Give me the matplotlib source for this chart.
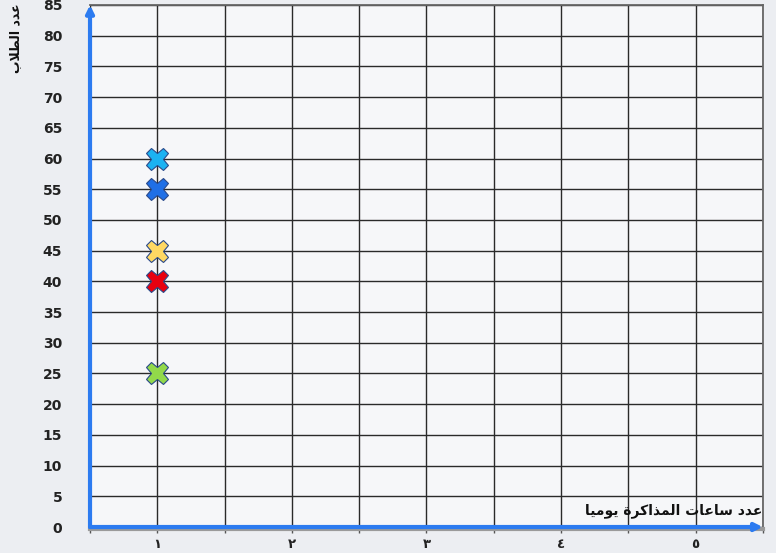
import numpy as np
import matplotlib.pyplot as plt
import matplotlib.transforms as mtransforms

# data
hours = [1, 1, 1, 1, 1]
students = [60, 55, 45, 40, 25]
point_colors = ['#1bb2f2', '#1f6fe6', '#ffd863', '#e8000f', '#92d94a']
x_labels = ['١', '٢', '٣', '٤', '٥']
y_ticks = list(range(0, 90, 5))


def shape(forms):
    # matplotlib has no Arabic shaping: use presentation forms in visual order
    return ''.join(chr(c) for c in forms)[::-1]


# "عدد ساعات المذاكرة يوميا"
xlabel_forms = [0xFECB, 0xFEAA, 0xFEA9, 0x20,
                0xFEB3, 0xFE8E, 0xFECB, 0xFE8E, 0xFE95, 0x20,
                0xFE8D, 0xFEDF, 0xFEE4, 0xFEAC, 0xFE8D, 0xFEDB, 0xFEAE, 0xFE93, 0x20,
                0xFEF3, 0xFEEE, 0xFEE3, 0xFEF4, 0xFE8E]
# "عدد الطلاب"
ylabel_forms = [0xFECB, 0xFEAA, 0xFEA9, 0x20,
                0xFE8D, 0xFEDF, 0xFEC4, 0xFEFC, 0xFE8F]

plt.rcParams['font.family'] = ['DejaVu Sans']

fig = plt.figure(figsize=(7.76, 5.53), dpi=100, facecolor='#eceef2')
ax = fig.add_axes([0.116, 0.047, 0.867, 0.944])
ax.set_facecolor('#f6f7f9')

ax.set_xlim(0.5, 5.5)
ax.set_ylim(0, 85)

# grid
ax.set_xticks(np.arange(0.5, 5.51, 0.5))
ax.set_xticklabels(['' if v != int(v) else x_labels[int(v) - 1]
                    for v in np.arange(0.5, 5.51, 0.5)],
                   fontsize=9.5, fontweight='bold', color='#222222')
ax.set_yticks(y_ticks)
ax.set_yticklabels([str(v) for v in y_ticks], fontsize=10,
                   fontweight='bold', color='#222222')
ax.tick_params(axis='x', length=4, width=1, color='#555555', pad=4)
ax.tick_params(axis='y', length=0, pad=20)
ax.grid(True, color='#2a2a2a', linewidth=1.0)
ax.set_axisbelow(True)

for s in ['left', 'bottom']:
    ax.spines[s].set_visible(False)
for s in ['top', 'right']:
    ax.spines[s].set_color('#666666')
    ax.spines[s].set_linewidth(1.3)

# gray shadow under the x axis
shadow = mtransforms.offset_copy(ax.transData, fig=fig, x=0, y=-2, units='dots')
ax.plot([0.5, 5.5], [0, 0], color='#9a9a9a', lw=3, transform=shadow,
        clip_on=False, zorder=3)

# blue axis arrows
arrow = dict(arrowstyle='-|>', color='#2c7bf0', lw=3, mutation_scale=11,
             shrinkA=0, shrinkB=0)
ax.annotate('', xy=(5.5, 0), xytext=(0.5, 0), arrowprops=arrow, zorder=4)
ax.annotate('', xy=(0.5, 85), xytext=(0.5, 0), arrowprops=arrow, zorder=4)

# points
for x, y, c in zip(hours, students, point_colors):
    ax.plot(x, y, marker='X', markersize=16, color=c,
            markeredgecolor='#2a4a8a', markeredgewidth=0.8, zorder=5)

ax.text(5.5, 2.6, shape(xlabel_forms), ha='right', va='center',
        fontsize=10, fontweight='bold', color='#111111', zorder=6)
fig.text(16 / 776, 1 - 38 / 553, shape(ylabel_forms), rotation=90,
         ha='center', va='center', fontsize=9, fontweight='bold',
         color='#111111')

fig.savefig('out.png', dpi=100, facecolor=fig.get_facecolor())
